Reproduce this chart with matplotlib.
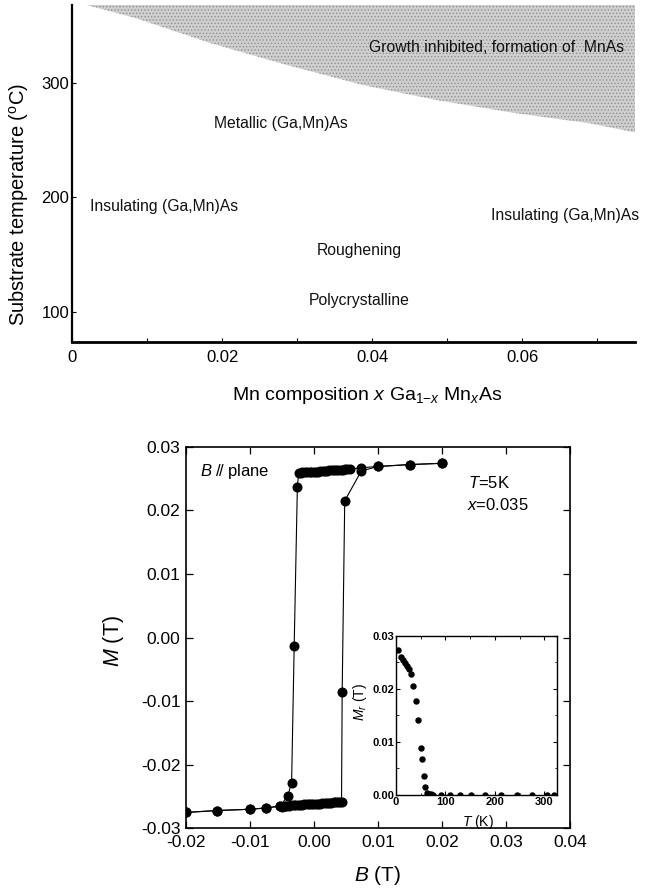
import matplotlib
matplotlib.use('Agg')
import matplotlib.pyplot as plt
from matplotlib.ticker import MultipleLocator, FixedLocator, FixedFormatter, FormatStrFormatter

plt.rcParams['font.family'] = ['Liberation Sans', 'DejaVu Sans']
plt.rcParams['mathtext.fontset'] = 'custom'
plt.rcParams['mathtext.rm'] = 'Liberation Sans'
plt.rcParams['mathtext.it'] = 'Liberation Sans:italic'
plt.rcParams['mathtext.bf'] = 'Liberation Sans:bold'
plt.rcParams['axes.unicode_minus'] = False
plt.rcParams['hatch.linewidth'] = 0.6

# ---------------- phase diagram data ----------------
boundary_x = [0.0019, 0.0085, 0.0185, 0.0286, 0.0387, 0.0488, 0.0589, 0.0689, 0.075]
boundary_T = [368.5, 357, 335, 316, 298.5, 285, 274, 265, 257]
region_labels = ['Growth inhibited, formation of  MnAs', 'Metallic (Ga,Mn)As',
                 'Insulating (Ga,Mn)As', 'Insulating (Ga,Mn)As',
                 'Roughening', 'Polycrystalline']
region_x = [0.0565, 0.0278, 0.0123, 0.0657, 0.0383, 0.0382]
region_T = [331, 265, 192, 184, 154, 110]
phase_xticks = [0, 0.02, 0.04, 0.06]
phase_xticklabels = ['0', '0.02', '0.04', '0.06']
phase_yticks = [100, 200, 300]

# ---------------- hysteresis data ----------------
desc_B = [0.0200, 0.0150, 0.0100, 0.0074,
          0.0056, 0.0052, 0.0049, 0.0045, 0.0042, 0.0038, 0.0035, 0.0031, 0.0028,
          0.0024, 0.0021, 0.0017, 0.0014, 0.0010, 0.0007, 0.0003, 0.0000, -0.0004,
          -0.0007, -0.0011, -0.0014, -0.0018, -0.0021, -0.0024,
          -0.0026, -0.0031, -0.0035, -0.0041, -0.0053, -0.0075, -0.0100, -0.0151, -0.0200]
desc_M = [0.0274, 0.0272, 0.0269, 0.0267,
          0.0265, 0.0265, 0.0265, 0.0264, 0.0264, 0.0264, 0.0263, 0.0263, 0.0263,
          0.0263, 0.0262, 0.0262, 0.0262, 0.0262, 0.0261, 0.0261, 0.0261, 0.0261,
          0.0260, 0.0260, 0.0260, 0.0260, 0.0259, 0.0258,
          0.0237, -0.0014, -0.0228, -0.0249, -0.0265, -0.0268, -0.0270, -0.0272, -0.0275]

asc_B = [-0.0200, -0.0151, -0.0100, -0.0075, -0.0053,
         -0.0050, -0.0046, -0.0043, -0.0039, -0.0036, -0.0032, -0.0029, -0.0025,
         -0.0022, -0.0018, -0.0015, -0.0011, -0.0008, -0.0004, -0.0001, 0.0003,
         0.0006, 0.0010, 0.0013, 0.0017, 0.0020, 0.0024, 0.0027, 0.0031, 0.0034,
         0.0038, 0.0041, 0.0043,
         0.0044, 0.0048, 0.0074, 0.0100, 0.0150, 0.0200]
asc_M = [-0.0275, -0.0272, -0.0270, -0.0268, -0.0265,
         -0.0266, -0.0265, -0.0265, -0.0265, -0.0264, -0.0264, -0.0264, -0.0263,
         -0.0263, -0.0263, -0.0262, -0.0262, -0.0262, -0.0262, -0.0261, -0.0261,
         -0.0261, -0.0261, -0.0260, -0.0260, -0.0260, -0.0260, -0.0260, -0.0259, -0.0259,
         -0.0259, -0.0259, -0.0259,
         -0.0086, 0.0215, 0.0262, 0.0269, 0.0272, 0.0274]

# ---------------- inset: remanence vs temperature ----------------
inset_T = [4.7, 10, 15, 19, 23, 27, 31, 35, 40.5, 45, 50, 53, 56, 59, 62, 66, 70, 75,
           92, 110, 130, 152, 181, 212, 244, 275, 305, 320]
inset_Mr = [0.0273, 0.0260, 0.0254, 0.0248, 0.0243, 0.0237, 0.0228, 0.0205, 0.0177,
            0.0142, 0.0089, 0.0067, 0.0036, 0.0016, 0.0004, 0.0002, 0.0001, 0.0,
            0.0, 0.0, 0.0, 0.0, 0.0, 0.0, 0.0, 0.0, 0.0, 0.0]

fig = plt.figure(figsize=(6.54, 8.88), dpi=100)

# ================= top: phase diagram =================
ax1 = fig.add_axes([0.1101, 0.6149, 0.8609, 0.3795])
ax1.fill_between(boundary_x, boundary_T, 368.5, facecolor='#cfcfcf',
                 edgecolor='#909090', hatch='.....', linewidth=0)
for lab, x, t in zip(region_labels, region_x, region_T):
    ax1.text(x, t, lab, ha='center', va='center', fontsize=11.3, color='#111111')
ax1.set_xlim(0, 0.075)
ax1.set_ylim(73.5, 368.5)
ax1.xaxis.set_major_locator(FixedLocator(phase_xticks))
ax1.xaxis.set_major_formatter(FixedFormatter(phase_xticklabels))
ax1.xaxis.set_minor_locator(MultipleLocator(0.01))
ax1.yaxis.set_major_locator(FixedLocator(phase_yticks))
ax1.tick_params(axis='both', which='both', direction='in', length=3, width=0.8,
                labelsize=12)
ax1.tick_params(axis='x', pad=6)
ax1.tick_params(axis='y', pad=2)
ax1.spines['top'].set_visible(False)
ax1.spines['right'].set_visible(False)
ax1.spines['left'].set_linewidth(1.6)
ax1.spines['bottom'].set_linewidth(2.0)
ax1.set_ylabel(r'Substrate temperature ($^{\mathrm{o}}$C)', fontsize=14.5)
ax1.yaxis.set_label_coords(-0.073, 0.407)
ax1.set_xlabel(r'Mn composition $x$ Ga$_{1\mathrm{-}x}$ Mn$_x$As', fontsize=14)
ax1.xaxis.set_label_coords(0.524, -0.128)

# ================= bottom: hysteresis =================
ax2 = fig.add_axes([0.2844, 0.0672, 0.5872, 0.4297])
ax2.plot(desc_B, desc_M, '-o', color='black', ms=6.2, lw=0.8)
ax2.plot(asc_B, asc_M, '-o', color='black', ms=6.2, lw=0.8)
ax2.set_xlim(-0.02, 0.04)
ax2.set_ylim(-0.03, 0.03)
ax2.xaxis.set_major_locator(MultipleLocator(0.01))
ax2.yaxis.set_major_locator(MultipleLocator(0.01))
ax2.xaxis.set_major_formatter(FormatStrFormatter('%.2f'))
ax2.yaxis.set_major_formatter(FormatStrFormatter('%.2f'))
ax2.tick_params(axis='both', which='both', direction='in', length=5, width=0.9,
                top=True, right=True, labelsize=12.5)
ax2.tick_params(axis='x', pad=5)
ax2.tick_params(axis='y', pad=4)
for sp in ax2.spines.values():
    sp.set_linewidth(1.2)
ax2.set_xlabel(r'$B$ (T)', fontsize=15)
ax2.xaxis.set_label_coords(0.5, -0.094)
ax2.set_ylabel(r'$M$ (T)', fontsize=15.5)
ax2.yaxis.set_label_coords(-0.156, 0.49)
ax2.text(-0.0178, 0.0261, r'$B$ $/\!/$ plane', fontsize=12, ha='left', va='center')
ax2.text(0.0240, 0.0243, r'$T$=5K', fontsize=12, ha='left', va='center')
ax2.text(0.0239, 0.0209, r'$x$=0.035', fontsize=12, ha='left', va='center')

# ================= inset =================
ax3 = fig.add_axes([0.6055, 0.1047, 0.2457, 0.1796])
ax3.plot(inset_T, inset_Mr, 'o', color='black', ms=3.6)
ax3.set_xlim(0, 325)
ax3.set_ylim(0, 0.03)
ax3.xaxis.set_major_locator(MultipleLocator(100))
ax3.xaxis.set_minor_locator(MultipleLocator(50))
ax3.yaxis.set_major_locator(MultipleLocator(0.01))
ax3.yaxis.set_minor_locator(MultipleLocator(0.005))
ax3.yaxis.set_major_formatter(FormatStrFormatter('%.2f'))
ax3.tick_params(axis='both', which='major', direction='in', length=3, width=0.8,
                top=True, right=True, labelsize=8, pad=1.5)
ax3.tick_params(axis='both', which='minor', direction='in', length=1.8, width=0.6,
                top=True, right=True)
for lbl in ax3.get_xticklabels() + ax3.get_yticklabels():
    lbl.set_fontweight('bold')
for sp in ax3.spines.values():
    sp.set_linewidth(1.0)
ax3.set_xlabel(r'$T$ (K)', fontsize=10)
ax3.xaxis.set_label_coords(0.51, -0.115)
ax3.set_ylabel(r'$M_r$ (T)', fontsize=10)
ax3.yaxis.set_label_coords(-0.17, 0.58)

fig.savefig('out.png', dpi=100)
